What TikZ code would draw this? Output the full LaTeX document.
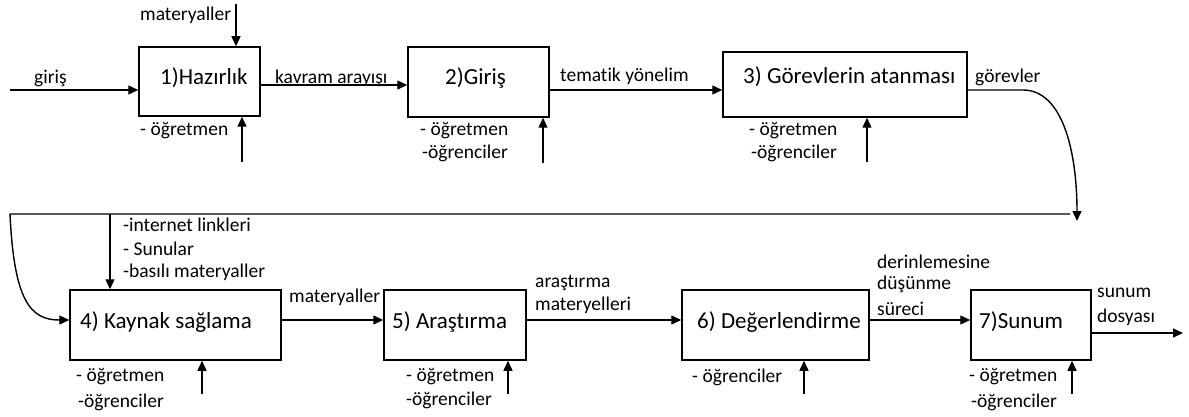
\documentclass[tikz,border=0pt]{standalone}
\usepackage{fontspec}
\setmainfont{Carlito}[RawFeature=-liga]
\usetikzlibrary{arrows.meta}
\begin{document}
\begin{tikzpicture}[x=1pt,y={(0pt,-1pt)},
  box/.style={draw,line width=1.5pt,inner sep=0pt},
  btext/.style={anchor=west,inner sep=0pt,font=\fontsize{23}{25}\selectfont},
  lbl/.style={anchor=west,inner sep=0pt,font=\fontsize{19.5}{21}\selectfont},
  arr/.style={line width=1.4pt,-{Triangle[length=10pt,width=9pt]}},
  ln/.style={line width=1.4pt}]
\useasboundingbox (0,0) rectangle (1189,417);
% boxes
\node[box,minimum width=121pt,minimum height=69pt] (b1) at (199.5,81.5) {};
\node[box,minimum width=141pt,minimum height=70pt] (b2) at (478.5,82) {};
\node[box,minimum width=244pt,minimum height=65pt] (b3) at (845,84.5) {};
\node[box,minimum width=211pt,minimum height=70pt] (b4) at (175.5,325) {};
\node[box,minimum width=142pt,minimum height=70pt] (b5) at (455,325) {};
\node[box,minimum width=187pt,minimum height=70pt] (b6) at (775.5,325) {};
\node[box,minimum width=120pt,minimum height=70pt] (b7) at (1031,325) {};
% box texts
\node[btext] (t1) at (160,78) {1)Hazırlık};
\node[btext] (t2) at (445,78) {2)Giriş};
\node[btext] (t3) at (743,77) {3) Görevlerin atanması};
\node[btext] (t4) at (80,322) {4) Kaynak sağlama};
\node[btext] (t5) at (392,322) {5) Araştırma};
\node[btext] (t6) at (697,322) {6) Değerlendirme};
\node[btext] (t7) at (979,322) {7)Sunum};
% labels
\node[lbl] (lgiris) at (34,78) {giriş};
\node[lbl] (lmat1) at (140,15) {materyaller};
\node[lbl] (lo1) at (140,131) {- öğretmen};
\node[lbl] (lka) at (275,78) {kavram arayışı};
\node[lbl] (lo2) at (420,131) {- öğretmen};
\node[lbl] (lg2) at (422,153) {-öğrenciler};
\node[lbl] (ltem) at (560,76) {tematik yönelim};
\node[lbl] (lo3) at (749,131) {- öğretmen};
\node[lbl] (lg3) at (751,153) {-öğrenciler};
\node[lbl] (lgor) at (975,77) {görevler};
\node[lbl] (li1) at (123,225) {-internet linkleri};
\node[lbl] (li2) at (123,249) {- Sunular};
\node[lbl] (li3) at (123,272) {-basılı materyaller};
\node[lbl] (lo4) at (76,377) {- öğretmen};
\node[lbl] (lg4) at (78,402) {-öğrenciler};
\node[lbl] (lmat4) at (289,297) {materyaller};
\node[lbl] (lo5) at (406,377) {- öğretmen};
\node[lbl] (lg5) at (406,400) {-öğrenciler};
\node[lbl] (lar1) at (535,283) {araştırma};
\node[lbl] (lar2) at (535,305) {materyelleri};
\node[lbl] (lg6) at (692,377) {- öğrenciler};
\node[lbl] (lde1) at (877,262) {derinlemesine};
\node[lbl] (lde2) at (877,284) {düşünme};
\node[lbl] (lde3) at (877,309) {süreci};
\node[lbl] (lo7) at (969,377) {- öğretmen};
\node[lbl] (lg7) at (971,402) {-öğrenciler};
\node[lbl] (lsu1) at (1097,293) {sunum};
\node[lbl] (lsu2) at (1097,317) {dosyası};
% free-end coordinates
\coordinate (in0) at (10,90);
\coordinate (m1) at (236,4);
\coordinate (u1) at (242,162);
\coordinate (u2) at (543,163);
\coordinate (u3) at (867,162);
\coordinate (u4) at (202,394);
\coordinate (u5) at (508,394);
\coordinate (u6) at (804,394);
\coordinate (u7) at (1072,394);
\coordinate (out7) at (1183,333);
\coordinate (hr) at (1070,214);
\coordinate (hl) at (10,214);
\coordinate (hd) at (110,214);
\coordinate (cd) at (1077,221);
% main flow
\draw[arr] (in0) -- (b1.west |- 0,90);
\draw[arr] (b1.east |- 0,85) -- (b2.west |- 0,85);
\draw[arr] (b2.east |- 0,90) -- (b3.west |- 0,90);
\draw[arr] (b3.east |- 0,90) -- (1023,90) .. controls (1062,90) and (1077,150) .. (cd);
\draw[ln] (hr) -- (hl) .. controls (14,300) and (30,320) .. ([xshift=-10pt]b4.west |- 0,320);
\draw[arr] ([xshift=-10.1pt]b4.west |- 0,320) -- (b4.west |- 0,320);
\draw[arr] (hd) -- (b4.north -| hd);
\draw[arr] (b4.east |- 0,320) -- (b5.west |- 0,320);
\draw[arr] (b5.east |- 0,320) -- (b6.west |- 0,320);
\draw[arr] (b6.east |- 0,320) -- (b7.west |- 0,320);
\draw[arr] (b7.east |- out7) -- (out7);
% top and bottom arrows
\draw[arr] (m1) -- (b1.north -| m1);
\draw[arr] (u1) -- (b1.south -| u1);
\draw[arr] (u2) -- (b2.south -| u2);
\draw[arr] (u3) -- (b3.south -| u3);
\draw[arr] (u4) -- (b4.south -| u4);
\draw[arr] (u5) -- (b5.south -| u5);
\draw[arr] (u6) -- (b6.south -| u6);
\draw[arr] (u7) -- (b7.south -| u7);
\end{tikzpicture}
\end{document}
